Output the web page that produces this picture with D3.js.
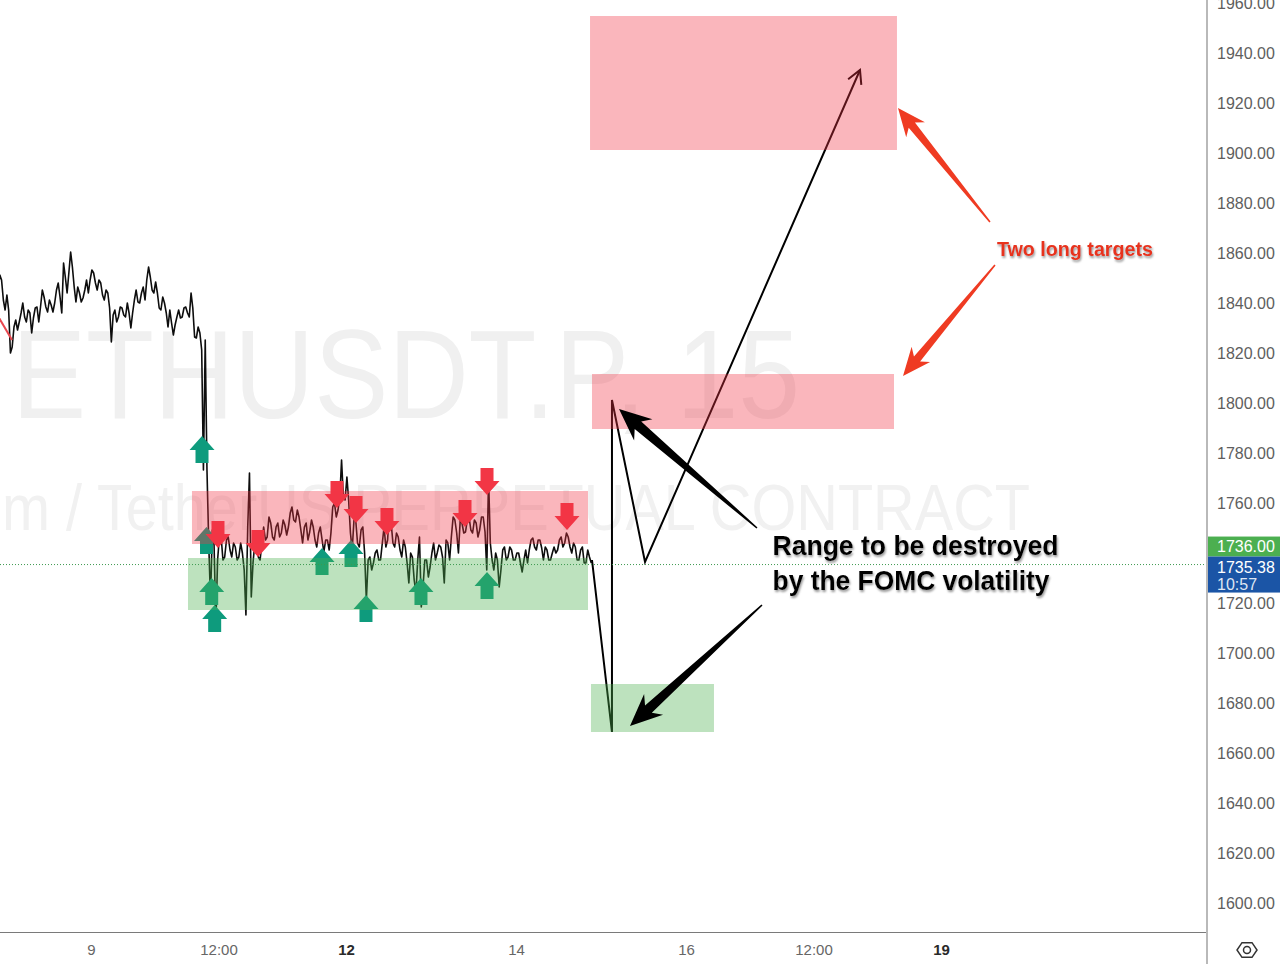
<!DOCTYPE html>
<html><head><meta charset="utf-8">
<script src="https://cdn.jsdelivr.net/npm/d3@7/dist/d3.min.js"></script>
<style>html,body{margin:0;padding:0;background:#fff;overflow:hidden}</style>
</head><body>
<svg id="chart" width="1280" height="964" xmlns="http://www.w3.org/2000/svg"></svg>
<script>
// ---------------- DATA ----------------
const symbolTitle = "ETHUSDT.P, 15";
const symbolSubtitle = "Ethereum / TetherUS PERPETUAL CONTRACT";
// hourly bars starting June 7 22:00 (day 7 + 22/24)
const seriesStartDay = 7 + 22 / 24;
const hourlyHigh = [
1851.2,1849.2,1843.2,1837.2,1830.4,1833.2,1836.0,1840.0,1837.2,1836.0,
1838.0,1838.4,1845.2,1842.4,1841.2,1839.2,1845.2,1848.0,1856.0,1850.4,
1860.4,1854.4,1846.4,1844.0,1845.2,1849.2,1853.2,1852.0,1849.2,1848.0,
1845.2,1844.0,1835.2,1837.2,1838.4,1838.0,1840.0,1836.0,1841.2,1845.2,
1844.0,1846.4,1854.4,1850.4,1848.4,1844.0,1842.4,1840.0,1837.2,1832.0,
1834.4,1837.2,1838.0,1838.4,1844.0,1838.0,1830.4,1828.0,1825.2,1773.2,
1749.2,1743.2,1746.4,1746.4,1745.2,1746.4,1744.0,1742.4,1744.0,1740.0,
1750.4,1772.0,1744.0,1744.0,1744.0,1750.4,1754.4,1752.0,1750.4,1752.0,
1753.2,1751.2,1756.0,1758.4,1757.2,1754.4,1750.4,1752.0,1753.2,1750.4,
1748.0,1750.4,1745.2,1745.2,1758.4,1760.0,1762.4,1777.2,1770.4,1761.2,
1753.2,1753.2,1749.2,1750.4,1737.2,1738.4,1740.0,1741.2,1744.0,1750.4,
1757.2,1752.0,1748.0,1746.4,1745.2,1742.4,1740.0,1738.4,1737.2,1746.4,
1737.2,1737.2,1740.0,1744.0,1743.2,1742.4,1745.2,1744.0,1754.4,1753.2,
1753.2,1752.0,1753.2,1754.4,1753.2,1752.0,1754.4,1754.4,1770.0,1744.0,
1740.0,1737.2,1741.2,1742.4,1742.4,1741.2,1740.0,1740.0,1737.2,1741.2,
1745.2,1746.0,1745.2,1745.2,1742.4,1741.2,1740.0,1742.4,1745.2,1746.4,
1748.0,1746.4,1744.0,1742.4,1741.2,1742.4,1741.2,1738.4];
const hourlyLow = [
1845.2,1841.2,1837.2,1820.0,1822.4,1829.2,1832.4,1834.4,1832.4,1828.0,
1834.0,1832.4,1838.4,1838.4,1836.4,1836.4,1840.0,1842.4,1836.0,1844.0,
1852.0,1846.4,1840.4,1840.4,1842.0,1844.0,1849.2,1848.0,1845.2,1843.2,
1841.2,1838.0,1824.4,1832.4,1834.4,1835.2,1834.4,1830.0,1836.0,1840.4,
1840.0,1841.2,1849.2,1845.2,1844.0,1838.0,1837.2,1836.0,1830.4,1827.2,
1831.2,1834.0,1834.4,1836.0,1834.4,1826.4,1826.0,1821.2,1773.2,1743.2,
1721.2,1712.0,1737.2,1737.2,1738.4,1741.2,1738.4,1737.2,1738.4,1733.2,
1715.2,1722.4,1736.0,1738.4,1737.2,1745.2,1746.4,1746.4,1745.2,1746.4,
1748.0,1747.2,1750.4,1753.2,1752.4,1749.2,1744.0,1745.2,1748.4,1745.2,
1742.4,1745.2,1740.4,1741.2,1748.0,1754.4,1757.2,1762.4,1761.2,1748.0,
1741.2,1744.0,1742.4,1740.0,1721.2,1733.2,1736.0,1737.2,1737.2,1742.4,
1745.2,1744.0,1742.4,1741.2,1738.4,1736.0,1728.0,1729.2,1724.0,1718.4,
1726.4,1730.4,1734.4,1737.2,1740.0,1738.4,1728.0,1737.2,1746.4,1748.0,
1740.0,1748.0,1748.4,1749.2,1748.0,1746.4,1749.2,1748.4,1733.2,1737.2,
1733.2,1726.4,1733.2,1737.2,1738.4,1737.2,1737.2,1736.0,1732.4,1736.0,
1741.2,1742.4,1741.2,1742.0,1737.2,1737.2,1737.2,1740.0,1741.2,1742.4,
1744.0,1742.4,1740.0,1737.2,1737.2,1736.0,1736.0,1736.0];

const priceTicks = [1600,1620,1640,1660,1680,1700,1720,1760,1780,1800,1820,1840,1860,1880,1900,1920,1940,1960];
const timeTickDays = [9, 10.5, 12, 14, 16, 17.5, 19];
const timeTickLabels = ["9", "12:00", "12", "14", "16", "12:00", "19"];
const timeTickBold = [false, false, true, false, false, false, true];

const lastPrice = 1735.38;
const lastPriceCountdown = "10:57";
const alertPrice = 1736.00;

// signal marks [day, price at arrow tip]
const buyMarks = [[10.306,1786.8],[10.359,1750.4],[10.42,1730.0],[10.455,1719.2],[11.718,1742.0],[12.059,1745.2],[12.235,1723.2],[12.882,1730.0],[13.659,1732.4]];
const sellMarks = [[10.494,1742.0],[10.965,1738.4],[11.894,1758.0],[12.118,1752.0],[12.482,1747.2],[13.4,1750.4],[13.659,1763.2],[14.6,1749.2]];

// zones [dayStart, dayEnd, priceTop, priceBottom]
const redZones = [[10.188,14.847,1764.8,1743.6],[14.871,18.482,1954.8,1901.2],[14.894,18.447,1811.6,1789.6]];
const greenZones = [[10.141,14.847,1738.0,1717.2],[14.882,16.329,1687.6,1668.4]];

// projected path [day, price]
const projectionPath = [[14.894,1737.2],[15.129,1668.4],[15.129,1801.2],[15.518,1736.4],[18.047,1933.2]];
// old red trend line piece at left edge
const leftTrendLine = [[7.906,1834.8],[8.071,1825.2]];

// callout arrows [tailDay, tailPrice, tipDay, tipPrice]
const blackCallouts = [[16.835,1750.0,15.212,1797.6],[16.894,1719.2,15.341,1670.8]];
const redCallouts = [[19.576,1872.4,18.494,1918.0],[19.635,1855.2,18.553,1810.8]];

const rangeText = ["Range to be destroyed", "by the FOMC volatility"];
const targetsText = "Two long targets";

// ---------------- CHART ----------------
const W = 1280, H = 964, paneRight = 1207, paneBottom = 932;
const dayToDate = d => new Date(new Date(2023, 5, 1).getTime() + (d - 1) * 864e5);
const x = d3.scaleTime().domain([dayToDate(9), dayToDate(19)]).range([91, 941]);
const y = d3.scaleLinear().domain([1600, 1960]).range([903, 3]);
const X = d => x(dayToDate(d));

const svg = d3.select("#chart");
const defs = svg.append("defs");
defs.append("clipPath").attr("id", "pane").append("rect").attr("x", 0).attr("y", 0).attr("width", paneRight).attr("height", paneBottom);
const sh = defs.append("filter").attr("id", "tshadow").attr("x", "-10%").attr("y", "-30%").attr("width", "120%").attr("height", "170%");
sh.append("feDropShadow").attr("dx", 1).attr("dy", 2).attr("stdDeviation", 1.3).attr("flood-color", "#777").attr("flood-opacity", 0.75);

svg.append("rect").attr("width", W).attr("height", H).attr("fill", "#fff");
const pane = svg.append("g").attr("clip-path", "url(#pane)");

// watermark
pane.append("text").text(symbolTitle)
  .attr("x", 12).attr("y", 418).attr("font-family", "Liberation Sans, Arial, sans-serif")
  .attr("font-size", 126).attr("fill", "#f0f0f0")
  .attr("textLength", 788).attr("lengthAdjust", "spacingAndGlyphs");
pane.append("text").text(symbolSubtitle)
  .attr("x", -200).attr("y", 530).attr("font-family", "Liberation Sans, Arial, sans-serif")
  .attr("font-size", 65).attr("fill", "#f1f1f1")
  .attr("textLength", 1230).attr("lengthAdjust", "spacingAndGlyphs");

// price series (hourly high/low drawn as a jagged trace)
const pts = [];
hourlyHigh.forEach((hi, i) => {
  const cx = X(seriesStartDay + i / 24), lo = hourlyLow[i];
  if (i % 2 === 0) { pts.push([cx - 0.9, y(lo)], [cx + 0.9, y(hi)]); }
  else { pts.push([cx - 0.9, y(hi)], [cx + 0.9, y(lo)]); }
});
pane.append("path").attr("d", d3.line()(pts)).attr("fill", "none")
  .attr("stroke", "#0d0d0d").attr("stroke-width", 1.6).attr("stroke-linejoin", "round");

pane.append("path").attr("d", d3.line().x(d => X(d[0])).y(d => y(d[1]))(leftTrendLine))
  .attr("stroke", "#e8474f").attr("stroke-width", 2).attr("fill", "none");

// projection path
const projPx = projectionPath.map(d => [X(d[0]), y(d[1])]);
pane.append("path").attr("d", d3.line()(projPx)).attr("fill", "none")
  .attr("stroke", "#000").attr("stroke-width", 2).attr("stroke-linejoin", "miter");
{
  const [ax, ay] = projPx[projPx.length - 2], [bx, by] = projPx[projPx.length - 1];
  const ang = Math.atan2(by - ay, bx - ax), L = 15, s = 0.5;
  const p1 = [bx - L * Math.cos(ang - s), by - L * Math.sin(ang - s)];
  const p2 = [bx - L * Math.cos(ang + s), by - L * Math.sin(ang + s)];
  pane.append("path").attr("d", d3.line()([p1, [bx, by], p2])).attr("fill", "none")
    .attr("stroke", "#000").attr("stroke-width", 2);
}

// signal arrows
function markPath(cx, tipY, dir) { // dir: -1 up (tip on top), +1 down
  const hw = 12.5, sw = 6.5, hh = 14, st = 13;
  const b = tipY - dir * hh, e = tipY - dir * (hh + st);
  return `M${cx},${tipY}L${cx + hw},${b}L${cx + sw},${b}L${cx + sw},${e}L${cx - sw},${e}L${cx - sw},${b}L${cx - hw},${b}Z`;
}
pane.selectAll(".buy").data(buyMarks).enter().append("path")
  .attr("d", d => markPath(X(d[0]), y(d[1]), -1)).attr("fill", "#0e9b7d");
pane.selectAll(".sell").data(sellMarks).enter().append("path")
  .attr("d", d => markPath(X(d[0]), y(d[1]), 1)).attr("fill", "#f23645");

// zones
pane.selectAll(".rz").data(redZones).enter().append("rect")
  .attr("x", d => X(d[0])).attr("width", d => X(d[1]) - X(d[0]))
  .attr("y", d => y(d[2])).attr("height", d => y(d[3]) - y(d[2]))
  .attr("fill", "rgba(242,54,69,0.36)");
pane.selectAll(".gz").data(greenZones).enter().append("rect")
  .attr("x", d => X(d[0])).attr("width", d => X(d[1]) - X(d[0]))
  .attr("y", d => y(d[2])).attr("height", d => y(d[3]) - y(d[2]))
  .attr("fill", "rgba(76,175,80,0.37)");

// last price dotted line
pane.append("line").attr("x1", 0).attr("x2", paneRight).attr("y1", y(lastPrice)).attr("y2", y(lastPrice))
  .attr("stroke", "#3d9a50").attr("stroke-width", 1).attr("stroke-dasharray", "1 2");

// callout arrows
function calloutPoly(d, o) {
  const x0 = X(d[0]), y0 = y(d[1]), x1 = X(d[2]), y1 = y(d[3]);
  const dx = x1 - x0, dy = y1 - y0, L = Math.hypot(dx, dy);
  const ux = dx / L, uy = dy / L, nx = -uy, ny = ux;
  const bx = x1 - ux * o.headLen, by = y1 - uy * o.headLen;
  const kx = x1 - ux * (o.headLen - o.barb), ky = y1 - uy * (o.headLen - o.barb);
  return [[x0 + nx * o.tailW, y0 + ny * o.tailW], [kx + nx * o.neckW, ky + ny * o.neckW],
    [bx + nx * o.headW, by + ny * o.headW], [x1, y1], [bx - nx * o.headW, by - ny * o.headW],
    [kx - nx * o.neckW, ky - ny * o.neckW], [x0 - nx * o.tailW, y0 - ny * o.tailW]];
}
const polyLine = d3.line().curve(d3.curveLinearClosed);
svg.selectAll(".bc").data(blackCallouts).enter().append("path")
  .attr("d", d => polyLine(calloutPoly(d, {headLen: 32, headW: 14, neckW: 5, tailW: 0.8, barb: 7})))
  .attr("fill", "#000");
svg.selectAll(".rc").data(redCallouts).enter().append("path")
  .attr("d", d => polyLine(calloutPoly(d, {headLen: 28, headW: 12, neckW: 4, tailW: 0.8, barb: 6})))
  .attr("fill", "#ef3b22");

// texts
const rt = svg.append("g").attr("filter", "url(#tshadow)");
rt.append("text").text(rangeText[0]).attr("x", X(17.018)).attr("y", y(1739.4))
  .attr("font-family", "Liberation Sans, Arial, sans-serif").attr("font-weight", "bold").attr("font-size", 28)
  .attr("fill", "#000").attr("textLength", 286).attr("lengthAdjust", "spacingAndGlyphs");
rt.append("text").text(rangeText[1]).attr("x", X(17.018)).attr("y", y(1725.2))
  .attr("font-family", "Liberation Sans, Arial, sans-serif").attr("font-weight", "bold").attr("font-size", 28)
  .attr("fill", "#000").attr("textLength", 277).attr("lengthAdjust", "spacingAndGlyphs");
svg.append("text").text(targetsText).attr("x", X(19.659)).attr("y", y(1859.0))
  .attr("filter", "url(#tshadow)")
  .attr("font-family", "Liberation Sans, Arial, sans-serif").attr("font-weight", "bold").attr("font-size", 19.5)
  .attr("fill", "#e8331c").attr("textLength", 156).attr("lengthAdjust", "spacingAndGlyphs");

// ---------------- AXES ----------------
const yAxis = d3.axisRight(y).tickValues(priceTicks).tickFormat(d3.format(".2f")).tickSize(0).tickPadding(10);
const gy = svg.append("g").attr("transform", `translate(${paneRight},0)`).call(yAxis);
gy.select(".domain").remove();
gy.selectAll("text").attr("font-family", "Liberation Sans, Arial, sans-serif").attr("font-size", 16).attr("fill", "#5e5e5e");

const xAxis = d3.axisBottom(x).tickValues(timeTickDays.map(dayToDate))
  .tickFormat((d, i) => timeTickLabels[i]).tickSize(0).tickPadding(12);
const gx = svg.append("g").attr("transform", `translate(0,${paneBottom})`).call(xAxis);
gx.select(".domain").remove();
gx.selectAll("text").attr("font-family", "Liberation Sans, Arial, sans-serif").attr("font-size", 15)
  .attr("font-weight", (d, i) => timeTickBold[i] ? "bold" : "normal")
  .attr("fill", (d, i) => timeTickBold[i] ? "#2a2a2a" : "#666");

// borders
svg.append("line").attr("x1", 0).attr("x2", paneRight + 1).attr("y1", paneBottom + 0.5).attr("y2", paneBottom + 0.5)
  .attr("stroke", "#7a7a7a").attr("stroke-width", 1);
svg.append("line").attr("x1", paneRight).attr("x2", paneRight).attr("y1", 0).attr("y2", H)
  .attr("stroke", "#b9b9b9").attr("stroke-width", 2);

// price labels
const ly = y(lastPrice);
svg.append("rect").attr("x", paneRight + 1).attr("y", ly - 28).attr("width", W - paneRight).attr("height", 20).attr("fill", "#4caf50");
svg.append("text").text(d3.format(".2f")(alertPrice)).attr("x", 1217).attr("y", ly - 18).attr("dy", "0.35em")
  .attr("font-family", "Liberation Sans, Arial, sans-serif").attr("font-size", 16).attr("fill", "#fff");
svg.append("rect").attr("x", paneRight + 1).attr("y", ly - 8).attr("width", W - paneRight).attr("height", 36).attr("fill", "#1b55a6");
svg.append("text").text(d3.format(".2f")(lastPrice)).attr("x", 1217).attr("y", ly + 3).attr("dy", "0.35em")
  .attr("font-family", "Liberation Sans, Arial, sans-serif").attr("font-size", 16).attr("fill", "#fff");
svg.append("text").text(lastPriceCountdown).attr("x", 1217).attr("y", ly + 19.5).attr("dy", "0.35em")
  .attr("font-family", "Liberation Sans, Arial, sans-serif").attr("font-size", 16).attr("fill", "#dfe6f3");

// settings icon
{
  const cx = 1247, cy = 950, r = 10;
  const hex = d3.range(6).map(k => [cx + r * Math.cos(k * Math.PI / 3), cy + r * 0.85 * Math.sin(k * Math.PI / 3)]);
  svg.append("path").attr("d", polyLine(hex)).attr("fill", "none").attr("stroke", "#333").attr("stroke-width", 1.5);
  svg.append("circle").attr("cx", cx).attr("cy", cy).attr("r", 3.5).attr("fill", "none").attr("stroke", "#333").attr("stroke-width", 1.5);
}
</script>
</body></html>
